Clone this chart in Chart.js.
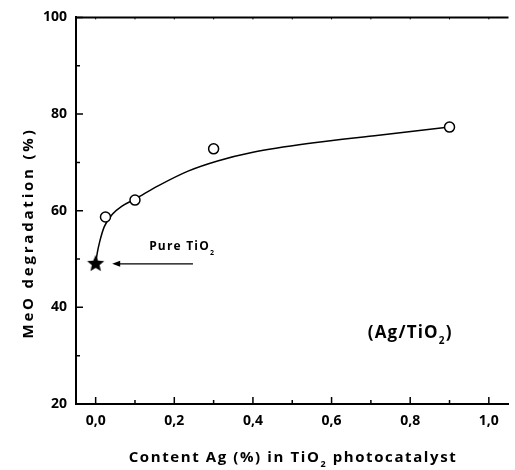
<!DOCTYPE html>
<html>
<head>
<meta charset="utf-8">
<script src="https://cdn.jsdelivr.net/npm/chart.js@4/dist/chart.umd.min.js"></script>
<style>
  body { margin: 0; background: #fff; }
</style>
</head>
<body>
<canvas id="agChart" width="515" height="470"></canvas>
<script>
// measured points
const agContent = [0.025, 0.1, 0.3, 0.9];
const degradation = [58.7, 62.2, 72.8, 77.3];
const pureContent = [0];
const pureDegradation = [49];

// fitted curve
const fitX = [0, 0.004, 0.01, 0.022, 0.043, 0.068, 0.1, 0.16, 0.235, 0.31, 0.4, 0.55, 0.72, 0.9];
const fitY = [49, 51.2, 53.5, 56.7, 59.3, 61.0, 62.4, 65.2, 68.2, 70.3, 72.1, 74.0, 75.6, 77.3];

// axes
const xTicks = [0, 0.2, 0.4, 0.6, 0.8, 1.0];
const xMinor = [0.1, 0.3, 0.5, 0.7, 0.9];
const yTicks = [20, 40, 60, 80, 100];
const yMinor = [30, 50, 70, 90];

const FONT = "'Open Sans', Lato, sans-serif";

function starImage(r) {
    const c = document.createElement("canvas");
    c.width = c.height = r * 2 + 2;
    const g = c.getContext("2d");
    g.beginPath();
    for (let i = 0; i < 10; i++) {
        const rad = i % 2 === 0 ? r : r * 0.45;
        const a = -Math.PI / 2 + i * Math.PI / 5;
        g.lineTo(r + 1 + rad * Math.cos(a), r + 1 + rad * Math.sin(a));
    }
    g.closePath();
    g.fillStyle = "#000";
    g.fill();
    return c;
}

// draws text pieces, some as subscripts
function drawParts(ctx, parts, x, y, size, spacing, align) {
    ctx.save();
    ctx.letterSpacing = spacing + "px";
    ctx.textBaseline = "alphabetic";
    ctx.textAlign = "left";
    let total = 0;
    const widths = parts.map((p) => {
        ctx.font = "bold " + (p.sub ? Math.round(size * 0.6) : size) + "px " + FONT;
        const w = ctx.measureText(p.t).width;
        total += w;
        return w;
    });
    let cx = align === "center" ? x - total / 2 : x;
    parts.forEach((p, i) => {
        ctx.font = "bold " + (p.sub ? Math.round(size * 0.6) : size) + "px " + FONT;
        ctx.fillText(p.t, cx, p.sub ? y + size * 0.35 : y);
        cx += widths[i];
    });
    ctx.restore();
}

const decorations = {
    id: "decorations",
    afterDraw(chart) {
        const { ctx, chartArea: a, scales: { x, y } } = chart;
        ctx.save();
        ctx.strokeStyle = "#000";
        ctx.fillStyle = "#000";
        ctx.lineWidth = 1.5;
        ctx.beginPath();
        xTicks.forEach((v) => { const p = x.getPixelForValue(v); ctx.moveTo(p, a.bottom); ctx.lineTo(p, a.bottom - 7); });
        xMinor.forEach((v) => { const p = x.getPixelForValue(v); ctx.moveTo(p, a.bottom); ctx.lineTo(p, a.bottom - 4); });
        yTicks.forEach((v) => { const p = y.getPixelForValue(v); ctx.moveTo(a.left, p); ctx.lineTo(a.left + 7, p); });
        yMinor.forEach((v) => { const p = y.getPixelForValue(v); ctx.moveTo(a.left, p); ctx.lineTo(a.left + 4, p); });
        ctx.stroke();

        // top frame line with small notches
        ctx.lineWidth = 2;
        ctx.beginPath();
        ctx.moveTo(a.left, a.top);
        ctx.lineTo(a.right, a.top);
        ctx.stroke();
        ctx.lineWidth = 1;
        ctx.beginPath();
        xTicks.concat(xMinor).forEach((v) => { const p = x.getPixelForValue(v); ctx.moveTo(p, a.top); ctx.lineTo(p, a.top + 2); });
        ctx.stroke();

        // arrow pointing at pure TiO2
        const ay = y.getPixelForValue(49);
        const x1 = x.getPixelForValue(0.2475);
        const x0 = x.getPixelForValue(0.042);
        ctx.lineWidth = 1.3;
        ctx.beginPath();
        ctx.moveTo(x1, ay);
        ctx.lineTo(x0 + 6, ay);
        ctx.stroke();
        ctx.beginPath();
        ctx.moveTo(x0, ay);
        ctx.lineTo(x0 + 8, ay - 3);
        ctx.lineTo(x0 + 8, ay + 3);
        ctx.closePath();
        ctx.fill();

        drawParts(ctx, [{ t: "Pure TiO" }, { t: "2", sub: true }], x.getPixelForValue(0.22), y.getPixelForValue(51.8), 12, 1.2, "center");
        drawParts(ctx, [{ t: "(Ag/TiO" }, { t: "2", sub: true }, { t: ")" }], x.getPixelForValue(0.8), y.getPixelForValue(33.7), 17, 1.2, "center");

        // axis titles
        drawParts(ctx, [{ t: "Content Ag (%) in TiO" }, { t: "2", sub: true }, { t: " photocatalyst" }], 293, 462, 15, 1.6, "center");
        ctx.translate(33, 233);
        ctx.rotate(-Math.PI / 2);
        drawParts(ctx, [{ t: "MeO degradation (%)" }], 0, 0, 15, 2.8, "center");
        ctx.restore();
    }
};

const commaFmt = (v) => v.toFixed(1).replace(".", ",");

new Chart(document.getElementById("agChart").getContext("2d"), {
    type: "scatter",
    data: {
        datasets: [
            {
                label: "fit",
                data: fitX.map((v, i) => ({ x: v, y: fitY[i] })),
                showLine: true,
                cubicInterpolationMode: "monotone",
                borderColor: "#000",
                borderWidth: 1.5,
                pointRadius: 0,
                order: 3,
            },
            {
                label: "Ag/TiO2",
                data: agContent.map((v, i) => ({ x: v, y: degradation[i] })),
                pointStyle: "circle",
                pointRadius: 5,
                pointBorderWidth: 1.5,
                borderColor: "#000",
                backgroundColor: "#fff",
                order: 1,
            },
            {
                label: "Pure TiO2",
                data: pureContent.map((v, i) => ({ x: v, y: pureDegradation[i] })),
                pointStyle: starImage(9),
                order: 0,
            },
        ],
    },
    options: {
        responsive: false,
        animation: false,
        devicePixelRatio: 1,
        layout: { padding: { top: 11, right: 0, left: 0, bottom: 0 } },
        plugins: { legend: { display: false }, tooltip: { enabled: false } },
        scales: {
            x: {
                type: "linear",
                min: -0.05,
                max: 1.05,
                grid: { display: false, drawTicks: false },
                border: { display: true, color: "#000", width: 2 },
                afterBuildTicks: (s) => { s.ticks = xTicks.map((v) => ({ value: v })); },
                afterFit: (s) => { s.height = 66; },
                ticks: {
                    color: "#000",
                    padding: 9,
                    maxRotation: 0,
                    font: { family: FONT, size: 14, weight: "bold" },
                    callback: commaFmt,
                },
            },
            y: {
                min: 20,
                max: 100,
                grid: { display: false, drawTicks: false },
                border: { display: true, color: "#000", width: 2 },
                afterBuildTicks: (s) => { s.ticks = yTicks.map((v) => ({ value: v })); },
                afterFit: (s) => { s.width = 76; },
                ticks: {
                    color: "#000",
                    padding: 9,
                    font: { family: FONT, size: 14, weight: "bold" },
                },
            },
        },
    },
    plugins: [decorations],
});
</script>
</body>
</html>
